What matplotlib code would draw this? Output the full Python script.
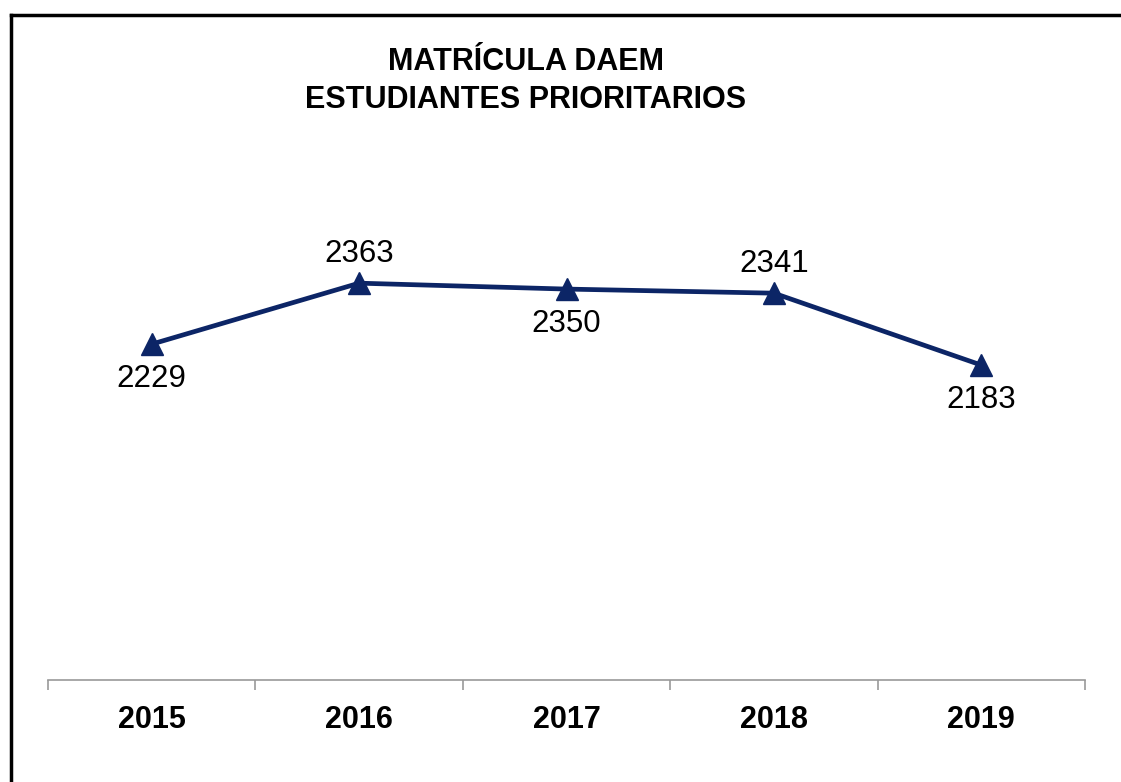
import numpy as np
import matplotlib.pyplot as plt
from matplotlib.lines import Line2D

plt.rcParams['font.family'] = ['Liberation Sans', 'DejaVu Sans']

# datos
years = ['2015', '2016', '2017', '2018', '2019']
matricula = [2229, 2363, 2350, 2341, 2183]
label_pos = ['below', 'above', 'below', 'above', 'below']

navy = '#0c2566'

fig = plt.figure(figsize=(11.21, 7.82), dpi=100)
ax = fig.add_axes([48 / 1121, 0.1304, 1037 / 1121, 0.582])

x = np.arange(len(years))
ax.plot(x, matricula, color=navy, lw=3.4, marker='^', markersize=16,
        markeredgecolor=navy, markerfacecolor=navy, zorder=3)

for xi, v, pos in zip(x, matricula, label_pos):
    dy = 21 if pos == 'above' else -25
    ax.annotate(str(v), (xi, v), xytext=(0, dy), textcoords='offset points',
                ha='center', va='center', fontsize=22.5, color='black')

ax.set_xlim(-0.5, len(years) - 0.5)
ax.set_ylim(1491, 2491)

for s in ['top', 'right', 'left']:
    ax.spines[s].set_visible(False)
ax.spines['bottom'].set_color('#999999')
ax.spines['bottom'].set_linewidth(1.2)

ax.set_yticks([])
ax.set_xticks(x)
ax.set_xticklabels(years, fontsize=22, fontweight='bold')
ax.tick_params(axis='x', which='major', length=0, pad=18)
ax.set_xticks(np.arange(-0.5, len(years)), minor=True)
ax.tick_params(axis='x', which='minor', length=7, color='#999999', width=1.2)

fig.text(0.469, 0.896, 'MATRÍCULA DAEM\nESTUDIANTES PRIORITARIOS',
         ha='center', va='center', fontsize=22, fontweight='bold',
         linespacing=1.35)

# marco
fig.add_artist(Line2D([11 / 1121, 1], [1 - 15 / 782, 1 - 15 / 782],
                      transform=fig.transFigure, color='black', lw=2.5))
fig.add_artist(Line2D([11 / 1121, 11 / 1121], [0, 1 - 15 / 782],
                      transform=fig.transFigure, color='black', lw=2.5))

fig.savefig('out.png', dpi=100)
